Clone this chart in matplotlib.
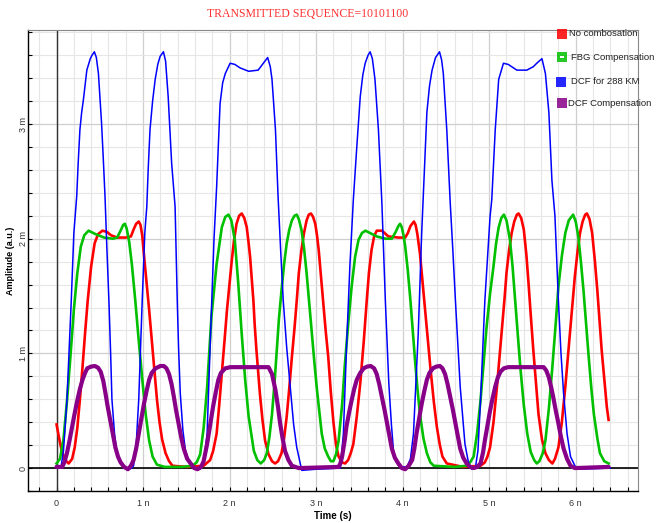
import matplotlib
matplotlib.use("Agg")
import matplotlib.pyplot as plt
from matplotlib.ticker import MultipleLocator, FuncFormatter
from matplotlib.patches import Rectangle

# time in ns, amplitude in mV
t_red = [0.00, 0.03, 0.06, 0.10, 0.14, 0.18, 0.21, 0.24, 0.27, 0.30, 0.33, 0.36,
         0.40, 0.44, 0.48, 0.53, 0.58, 0.63, 0.70, 0.80, 0.86, 0.89, 0.92, 0.95,
         0.97, 0.99, 1.01, 1.04, 1.07, 1.10, 1.13, 1.16, 1.19, 1.22, 1.26, 1.30,
         1.34, 1.50, 1.70, 1.775, 1.81, 1.85, 1.88, 1.91, 1.94, 1.97, 2.00, 2.025,
         2.05, 2.08, 2.11, 2.14, 2.17, 2.198, 2.22, 2.237, 2.255, 2.275, 2.29, 2.31,
         2.33, 2.35, 2.38, 2.41, 2.45, 2.49, 2.526, 2.56, 2.60, 2.63, 2.66, 2.69,
         2.72, 2.75, 2.776, 2.80, 2.83, 2.86, 2.89, 2.915, 2.94, 2.965, 2.99, 3.01,
         3.03, 3.055, 3.08, 3.11, 3.14, 3.17, 3.20, 3.23, 3.26, 3.30, 3.335, 3.37,
         3.40, 3.43, 3.47, 3.51, 3.55, 3.585, 3.61, 3.64, 3.67, 3.70, 3.76, 3.835,
         3.95, 4.03, 4.06, 4.09, 4.13, 4.15, 4.17, 4.20, 4.23, 4.26, 4.29, 4.32,
         4.36, 4.395, 4.43, 4.46, 4.51, 4.70, 4.90, 4.95, 4.98, 5.01, 5.05, 5.09,
         5.12, 5.15, 5.18, 5.20, 5.23, 5.26, 5.29, 5.32, 5.34, 5.37, 5.40, 5.43,
         5.455, 5.48, 5.51, 5.54, 5.57, 5.61, 5.65, 5.69, 5.73, 5.76, 5.80, 5.84,
         5.88, 5.91, 5.94, 5.97, 5.99, 6.02, 6.05, 6.08, 6.11, 6.13, 6.16, 6.19,
         6.22, 6.25, 6.28, 6.30, 6.33, 6.36, 6.38]
v_red = [0.38, 0.26, 0.15, 0.07, 0.04, 0.08, 0.18, 0.35, 0.60, 0.88, 1.18, 1.46,
         1.76, 1.96, 2.04, 2.07, 2.06, 2.03, 2.01, 2.01, 2.02, 2.08, 2.13, 2.15,
         2.12, 2.03, 1.86, 1.62, 1.38, 1.12, 0.86, 0.60, 0.40, 0.25, 0.13, 0.06,
         0.02, 0.01, 0.02, 0.07, 0.15, 0.30, 0.55, 0.82, 1.10, 1.38, 1.62, 1.81,
         1.98, 2.13, 2.20, 2.22, 2.18, 2.10, 1.96, 1.84, 1.66, 1.46, 1.25, 1.03,
         0.84, 0.65, 0.42, 0.24, 0.12, 0.06, 0.04, 0.06, 0.13, 0.26, 0.45, 0.70,
         0.97, 1.22, 1.46, 1.70, 1.90, 2.05, 2.16, 2.21, 2.22, 2.19, 2.13, 2.03,
         1.90, 1.68, 1.46, 1.20, 0.97, 0.66, 0.40, 0.20, 0.10, 0.05, 0.04, 0.07,
         0.13, 0.21, 0.45, 0.74, 1.10, 1.46, 1.70, 1.90, 2.02, 2.07, 2.07, 2.02,
         2.01, 2.01, 2.05, 2.11, 2.15, 2.12, 2.04, 1.87, 1.62, 1.38, 1.12, 0.88,
         0.58, 0.36, 0.20, 0.10, 0.04, 0.01, 0.02, 0.05, 0.10, 0.18, 0.40, 0.71,
         0.97, 1.23, 1.50, 1.70, 1.90, 2.05, 2.15, 2.21, 2.22, 2.18, 2.08, 1.86,
         1.61, 1.34, 1.03, 0.75, 0.47, 0.25, 0.13, 0.07, 0.04, 0.08, 0.18, 0.40,
         0.71, 0.97, 1.23, 1.50, 1.67, 1.88, 2.05, 2.15, 2.21, 2.22, 2.17, 2.05,
         1.82, 1.55, 1.24, 1.03, 0.78, 0.53, 0.42]

t_green = [0.00, 0.04, 0.08, 0.12, 0.16, 0.20, 0.24, 0.28, 0.32, 0.37, 0.45, 0.55,
           0.65, 0.70, 0.74, 0.77, 0.79, 0.81, 0.84, 0.87, 0.91, 0.95, 0.99, 1.03,
           1.07, 1.11, 1.16, 1.25, 1.45, 1.57, 1.62, 1.66, 1.70, 1.74, 1.79, 1.85,
           1.91, 1.95, 1.987, 2.02, 2.06, 2.10, 2.14, 2.18, 2.22, 2.28, 2.32, 2.36,
           2.40, 2.43, 2.46, 2.49, 2.52, 2.545, 2.57, 2.60, 2.63, 2.66, 2.69, 2.72,
           2.75, 2.776, 2.80, 2.83, 2.86, 2.89, 2.92, 2.95, 2.98, 3.01, 3.04, 3.065,
           3.10, 3.14, 3.17, 3.20, 3.23, 3.26, 3.30, 3.33, 3.37, 3.41, 3.45, 3.49,
           3.53, 3.57, 3.70, 3.80, 3.875, 3.92, 3.95, 3.97, 3.99, 4.01, 4.03, 4.06,
           4.09, 4.12, 4.14, 4.17, 4.20, 4.24, 4.28, 4.32, 4.36, 4.60, 4.74, 4.78,
           4.82, 4.86, 4.90, 4.94, 4.97, 5.01, 5.05, 5.08, 5.11, 5.14, 5.17, 5.20,
           5.24, 5.27, 5.30, 5.33, 5.36, 5.40, 5.44, 5.48, 5.52, 5.55, 5.58, 5.62,
           5.65, 5.69, 5.73, 5.77, 5.80, 5.84, 5.88, 5.92, 5.97, 6.00, 6.03, 6.06,
           6.09, 6.12, 6.15, 6.18, 6.21, 6.25, 6.28, 6.33, 6.38]
v_green = [0.04, 0.08, 0.25, 0.58, 0.97, 1.38, 1.70, 1.93, 2.03, 2.07, 2.04, 2.01,
           2.00, 2.01, 2.07, 2.12, 2.13, 2.09, 1.97, 1.78, 1.46, 1.11, 0.78, 0.47,
           0.24, 0.10, 0.03, 0.01, 0.01, 0.02, 0.05, 0.12, 0.35, 0.70, 1.32, 1.78,
           2.10, 2.19, 2.21, 2.16, 1.99, 1.61, 1.17, 0.77, 0.45, 0.15, 0.07, 0.04,
           0.07, 0.13, 0.27, 0.47, 0.75, 1.03, 1.30, 1.55, 1.78, 1.96, 2.08, 2.16,
           2.20, 2.21, 2.17, 2.08, 1.92, 1.70, 1.44, 1.17, 0.92, 0.68, 0.47, 0.30,
           0.17, 0.10, 0.06, 0.06, 0.12, 0.24, 0.55, 0.88, 1.25, 1.58, 1.84, 1.99,
           2.05, 2.07, 2.02, 2.00, 2.00, 2.06, 2.11, 2.13, 2.10, 2.03, 1.93, 1.72,
           1.46, 1.17, 0.97, 0.70, 0.47, 0.26, 0.13, 0.05, 0.02, 0.01, 0.02, 0.05,
           0.10, 0.30, 0.59, 0.95, 1.23, 1.52, 1.76, 1.96, 2.10, 2.18, 2.21, 2.16,
           1.99, 1.76, 1.46, 1.17, 0.88, 0.55, 0.30, 0.14, 0.07, 0.04, 0.06, 0.13,
           0.24, 0.52, 0.88, 1.27, 1.58, 1.85, 2.05, 2.16, 2.21, 2.15, 2.02, 1.80,
           1.55, 1.26, 0.97, 0.70, 0.47, 0.26, 0.13, 0.06, 0.04]

t_blue = [0.00, 0.05, 0.08, 0.12, 0.17, 0.20, 0.233, 0.25, 0.27, 0.29, 0.31, 0.35,
          0.39, 0.41, 0.437, 0.46, 0.484, 0.50, 0.52, 0.54, 0.56, 0.58, 0.605, 0.625,
          0.64, 0.67, 0.70, 0.74, 0.78, 0.84, 0.87, 0.89, 0.92, 0.95, 0.99, 1.02,
          1.043, 1.06, 1.08, 1.11, 1.14, 1.17, 1.197, 1.235, 1.26, 1.29, 1.31, 1.33,
          1.37, 1.395, 1.41, 1.43, 1.46, 1.49, 1.54, 1.59, 1.66, 1.70, 1.74, 1.78,
          1.82, 1.85, 1.89, 1.92, 1.95, 2.006, 2.06, 2.12, 2.22, 2.33, 2.39, 2.44,
          2.47, 2.49, 2.53, 2.56, 2.59, 2.62, 2.66, 2.70, 2.74, 2.776, 2.834, 3.00,
          3.28, 3.315, 3.35, 3.39, 3.43, 3.47, 3.51, 3.54, 3.567, 3.60, 3.624, 3.65,
          3.68, 3.72, 3.76, 3.80, 3.84, 3.87, 3.894, 3.93, 3.97, 4.05, 4.09, 4.125,
          4.18, 4.22, 4.24, 4.28, 4.31, 4.34, 4.38, 4.426, 4.45, 4.47, 4.51, 4.55,
          4.58, 4.61, 4.665, 4.72, 4.76, 4.80, 4.84, 4.87, 4.90, 4.95, 5.01, 5.03,
          5.07, 5.11, 5.165, 5.22, 5.32, 5.435, 5.51, 5.55, 5.61, 5.65, 5.69, 5.725,
          5.76, 5.80, 5.83, 5.86, 5.90, 5.94, 6.01, 6.40]
v_blue = [0.02, 0.00, 0.15, 0.59, 1.46, 2.05, 2.37, 2.66, 2.95, 3.10, 3.21, 3.47,
          3.57, 3.60, 3.63, 3.58, 3.44, 3.25, 3.01, 2.70, 2.37, 1.95, 1.46, 1.00,
          0.60, 0.30, 0.12, 0.04, 0.01, -0.01, 0.00, 0.02, 0.20, 0.60, 1.46, 2.05,
          2.28, 2.62, 2.95, 3.20, 3.39, 3.52, 3.59, 3.63, 3.55, 3.24, 2.95, 2.66,
          2.28, 1.46, 1.05, 0.65, 0.33, 0.15, 0.04, 0.00, -0.01, 0.05, 0.30, 1.17,
          2.00, 2.45, 3.18, 3.36, 3.44, 3.53, 3.52, 3.49, 3.46, 3.47, 3.53, 3.58,
          3.50, 3.39, 2.95, 2.37, 1.90, 1.46, 1.05, 0.71, 0.38, 0.18, -0.02, -0.01,
          0.00, 0.30, 1.03, 1.76, 2.34, 2.80, 3.24, 3.43, 3.53, 3.60, 3.63, 3.57,
          3.39, 2.95, 2.31, 1.46, 0.74, 0.38, 0.15, 0.05, 0.01, 0.01, 0.08, 0.30,
          1.17, 2.05, 2.40, 3.10, 3.33, 3.47, 3.58, 3.63, 3.56, 3.44, 2.95, 2.31,
          1.90, 1.46, 0.71, 0.21, 0.05, -0.01, 0.00, 0.15, 0.59, 1.46, 2.19, 2.34,
          2.95, 3.39, 3.53, 3.52, 3.47, 3.47, 3.50, 3.53, 3.57, 3.44, 3.10, 2.51,
          2.20, 1.46, 1.00, 0.65, 0.30, 0.10, -0.01, 0.00]

t_purple = [0.00, 0.065, 0.09, 0.12, 0.15, 0.18, 0.21, 0.24, 0.27, 0.30, 0.33, 0.355,
            0.40, 0.443, 0.48, 0.51, 0.54, 0.566, 0.59, 0.62, 0.65, 0.68, 0.71, 0.74,
            0.78, 0.825, 0.86, 0.89, 0.92, 0.95, 0.98, 1.01, 1.04, 1.07, 1.10, 1.145,
            1.20, 1.24, 1.27, 1.30, 1.33, 1.356, 1.38, 1.41, 1.44, 1.47, 1.51, 1.55,
            1.59, 1.63, 1.67, 1.70, 1.74, 1.78, 1.81, 1.84, 1.87, 1.90, 1.95, 2.01,
            2.45, 2.49, 2.53, 2.56, 2.584, 2.61, 2.64, 2.68, 2.72, 2.80, 3.26, 3.28,
            3.30, 3.33, 3.35, 3.38, 3.41, 3.44, 3.47, 3.51, 3.55, 3.59, 3.63, 3.67,
            3.70, 3.73, 3.76, 3.79, 3.82, 3.85, 3.875, 3.91, 3.95, 3.99, 4.03, 4.07,
            4.11, 4.135, 4.16, 4.19, 4.22, 4.25, 4.28, 4.31, 4.35, 4.39, 4.43, 4.46,
            4.49, 4.52, 4.55, 4.58, 4.61, 4.64, 4.665, 4.70, 4.74, 4.78, 4.82, 4.86,
            4.90, 4.93, 4.95, 4.98, 5.01, 5.04, 5.07, 5.10, 5.13, 5.17, 5.22, 5.63,
            5.66, 5.69, 5.715, 5.74, 5.77, 5.80, 5.83, 5.86, 5.90, 5.94, 5.99, 6.38]
v_purple = [0.01, 0.01, 0.05, 0.13, 0.24, 0.36, 0.48, 0.59, 0.69, 0.77, 0.83, 0.87,
            0.885, 0.89, 0.875, 0.84, 0.76, 0.65, 0.54, 0.42, 0.30, 0.18, 0.10, 0.05,
            0.01, -0.01, 0.02, 0.07, 0.17, 0.30, 0.43, 0.56, 0.67, 0.77, 0.83, 0.87,
            0.89, 0.89, 0.87, 0.82, 0.73, 0.62, 0.51, 0.39, 0.27, 0.17, 0.08, 0.04,
            0.00, -0.01, 0.01, 0.06, 0.21, 0.40, 0.54, 0.66, 0.77, 0.83, 0.87, 0.88,
            0.88, 0.82, 0.68, 0.53, 0.39, 0.27, 0.15, 0.07, 0.02, 0.00, 0.01, 0.04,
            0.10, 0.24, 0.36, 0.48, 0.59, 0.69, 0.77, 0.83, 0.87, 0.885, 0.89, 0.87,
            0.82, 0.73, 0.62, 0.51, 0.39, 0.27, 0.17, 0.09, 0.04, 0.00, -0.01, 0.02,
            0.07, 0.17, 0.30, 0.43, 0.56, 0.67, 0.77, 0.83, 0.87, 0.885, 0.89, 0.87,
            0.82, 0.73, 0.62, 0.51, 0.39, 0.27, 0.17, 0.09, 0.04, 0.01, 0.00, 0.01,
            0.04, 0.14, 0.24, 0.37, 0.50, 0.61, 0.71, 0.79, 0.84, 0.87, 0.88, 0.88,
            0.85, 0.79, 0.71, 0.62, 0.50, 0.39, 0.27, 0.17, 0.08, 0.02, 0.00, 0.01]

labels = ["No combosation", "FBG Compensation", "DCF for 288 KM", "DCF Compensation"]
colors = ["#ff0000", "#00c000", "#0000ff", "#880088"]

fig = plt.figure(figsize=(6.56, 5.23), dpi=100)
ax = fig.add_axes([28/656, 32/523, 610/656, 461/523])

ax.plot(t_red, v_red, color=colors[0], lw=1.9, solid_joinstyle="round")
ax.plot(t_green, v_green, color=colors[1], lw=1.9, solid_joinstyle="round")
ax.plot(t_blue, v_blue, color=colors[2], lw=1.1, solid_joinstyle="round")
ax.plot(t_purple, v_purple, color=colors[3], lw=3.0, solid_joinstyle="round",
        solid_capstyle="round")

ax.axhline(0, color="black", lw=1.2, zorder=1)
ax.axvline(0, color="#333333", lw=1.0, zorder=1)

ax.set_xlim(-0.33, 6.72)
ax.set_ylim(-0.2, 3.82)
ax.xaxis.set_major_locator(MultipleLocator(1))
ax.xaxis.set_minor_locator(MultipleLocator(0.2))
ax.yaxis.set_major_locator(MultipleLocator(1))
ax.yaxis.set_minor_locator(MultipleLocator(0.2))
ax.xaxis.set_major_formatter(FuncFormatter(lambda v, p: "0" if abs(v) < 1e-9 else f"{v:.0f} n"))
ax.yaxis.set_major_formatter(FuncFormatter(lambda v, p: "0" if abs(v) < 1e-9 else f"{v:.0f} m"))
ax.grid(which="major", color="#cfcfcf", lw=0.9, zorder=0)
ax.grid(which="minor", color="#e6e6e6", lw=0.8, zorder=0)
ax.set_axisbelow(True)

ax.tick_params(which="both", direction="in", length=3, width=0.8, colors="black",
               labelsize=6.5)
ax.tick_params(axis="x", pad=6)
ax.tick_params(axis="y", which="major", labelrotation=90, pad=0)
for lab in ax.get_yticklabels():
    lab.set_va("center")
for lab in ax.get_xticklabels() + ax.get_yticklabels():
    lab.set_family("Liberation Sans")
    lab.set_color("#333333")

for side in ["top", "right"]:
    ax.spines[side].set_linestyle((0, (1, 1)))
    ax.spines[side].set_color("#888888")
    ax.spines[side].set_linewidth(0.8)
ax.spines["left"].set_linewidth(1.0)
ax.spines["bottom"].set_linewidth(1.0)

ax.set_xlabel("Time (s)", fontsize=7, fontweight="bold", family="Liberation Sans", labelpad=2)
ax.set_ylabel("Amplitude (a.u.)", fontsize=6.5, fontweight="bold", family="Liberation Sans")
ax.yaxis.set_label_coords(-13/610, 0.5)

fig.text(308/656, 1 - 14/523, "TRANSMITTED SEQUENCE=10101100", color="#ff3030",
         family="Liberation Serif", fontsize=8.5, ha="center", va="center")

# legend drawn by hand on the figure (right top corner)
leg_y = [34, 57, 82, 103]
leg_sq = [557, 557, 556, 557]
leg_tx = [569, 571, 571, 568]
for i in range(4):
    y = 1 - leg_y[i]/523
    fig.patches.append(Rectangle((leg_sq[i]/656, y - 5/523), 10/656, 10/523,
                                 transform=fig.transFigure, facecolor=colors[i],
                                 edgecolor="none", alpha=0.85))
    fig.text(leg_tx[i]/656, y, labels[i], fontsize=6.8, family="Liberation Sans",
             color="#222222", ha="left", va="center")
fig.patches.append(Rectangle((560/656, 1 - 58/523), 4/656, 2/523, transform=fig.transFigure,
                             facecolor="white", edgecolor="none"))

fig.savefig("out.png", dpi=100)
